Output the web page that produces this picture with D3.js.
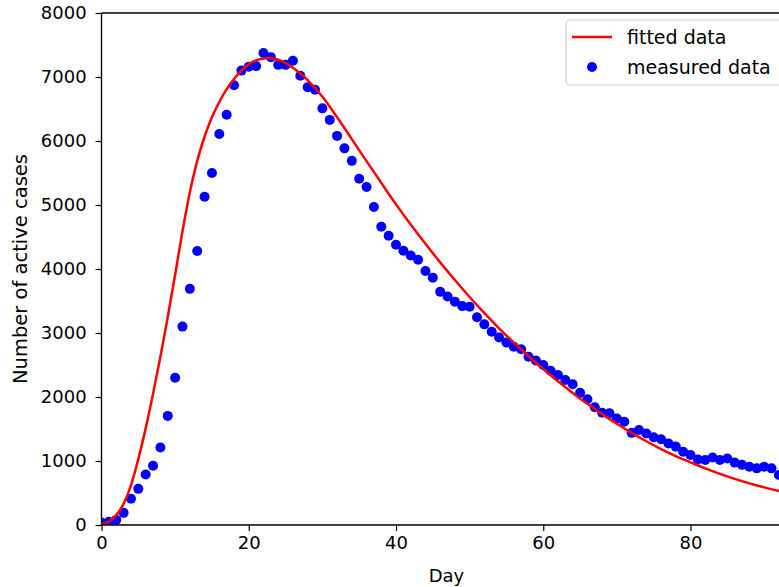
<!DOCTYPE html>
<html>
<head>
<meta charset="utf-8">
<script src="https://cdn.jsdelivr.net/npm/d3@7"></script>
<style>
  html, body { margin: 0; padding: 0; background: #fff; }
  svg { display: block; font-family: "DejaVu Sans", sans-serif; }
</style>
</head>
<body>
<svg id="chart" width="779" height="587"></svg>
<script>
// ---- data ----
const measuredDays = d3.range(0, 93);
const measuredValues = [
  40, 50, 80, 190, 410, 565, 790, 925, 1210, 1705,
  2300, 3100, 3690, 4280, 5130, 5500, 6110, 6410, 6870, 7100,
  7160, 7170, 7375, 7310, 7190, 7190, 7255, 7020, 6840, 6800,
  6510, 6330, 6080, 5885, 5690, 5410, 5280, 4970, 4660, 4520,
  4380, 4285, 4210, 4145, 3970, 3865, 3645, 3570, 3490, 3420,
  3410, 3245, 3135, 3020, 2930, 2850, 2785, 2745, 2630, 2570,
  2500, 2410, 2345, 2265, 2200, 2065, 1965, 1840, 1755, 1745,
  1665, 1615, 1440, 1485, 1430, 1370, 1340, 1275, 1225, 1145,
  1095, 1025, 1015, 1055, 1015, 1040, 975, 940, 910, 885,
  910, 885, 780
];
const fittedDays = [0, 1, 2, 3, 4, 5, 6, 7, 8, 9, 10, 11, 12, 13, 14, 15, 16, 17, 18, 19,
  20, 21, 22, 23, 24, 25, 26, 27, 28, 30, 32, 34, 36, 38, 40, 42, 44, 46, 48, 50,
  52, 54, 56, 58, 60, 62, 64, 66, 68, 70, 72, 74, 76, 78, 80, 82, 84, 86, 88, 90, 92, 94];
const fittedValues = [10, 55, 155, 330, 620, 1030, 1510, 2050, 2630, 3250, 3910, 4590, 5200, 5690, 6070, 6370, 6610, 6810, 6970, 7100,
  7200, 7260, 7290, 7295, 7270, 7220, 7145, 7055, 6950, 6690, 6370, 6030, 5685, 5345, 5010, 4695, 4393, 4104, 3828, 3563,
  3312, 3074, 2849, 2637, 2438, 2245, 2064, 1893, 1732, 1581, 1440, 1309, 1187, 1077, 980, 885, 799, 721, 651, 588, 530, 476];
const xTicks = [0, 20, 40, 60, 80];
const yTicks = [0, 1000, 2000, 3000, 4000, 5000, 6000, 7000, 8000];
const legendLabels = ["fitted data", "measured data"];
const xLabel = "Day";
const yLabel = "Number of active cases";

// ---- layout ----
const svg = d3.select("#chart");
const mLeft = 101.5, mTop = 13, mBottom = 525;
const pxPerDay = 7.3625;
const mRight = mLeft + pxPerDay * 100;   // axes extend past the visible area
const x = d3.scaleLinear().domain([0, 100]).range([mLeft, mRight]);
const y = d3.scaleLinear().domain([0, 8000]).range([mBottom, mTop]);
const fsTick = 18, fsLab = 19.5, fsLeg = 19;

svg.append("defs").append("clipPath").attr("id", "plotclip")
  .append("rect").attr("x", mLeft).attr("y", mTop).attr("width", mRight - mLeft).attr("height", mBottom - mTop);

const plot = svg.append("g").attr("clip-path", "url(#plotclip)");

plot.selectAll("circle.m").data(measuredDays.map((d, i) => [d, measuredValues[i]]))
  .enter().append("circle").attr("class", "m")
  .attr("cx", d => x(d[0])).attr("cy", d => y(d[1])).attr("r", 5)
  .attr("fill", "#0000ff");

const line = d3.line().x(d => x(d[0])).y(d => y(d[1])).curve(d3.curveMonotoneX);
plot.append("path").datum(fittedDays.map((d, i) => [d, fittedValues[i]]))
  .attr("d", line).attr("fill", "none").attr("stroke", "#ff0000").attr("stroke-width", 2.5)
  .attr("stroke-linejoin", "round");

const xAxis = d3.axisBottom(x).tickValues(xTicks).tickSize(5.9).tickPadding(5.5).tickFormat(d3.format("d"));
const yAxis = d3.axisLeft(y).tickValues(yTicks).tickSize(5.9).tickPadding(9).tickFormat(d3.format("d"));
const gx = svg.append("g").attr("transform", `translate(0,${mBottom})`).call(xAxis);
const gy = svg.append("g").attr("transform", `translate(${mLeft},0)`).call(yAxis);
[gx, gy].forEach(g => {
  g.select(".domain").remove();
  g.selectAll(".tick line").attr("stroke", "#000").attr("stroke-width", 1.2);
  g.selectAll(".tick text").attr("fill", "#000").style("font-size", fsTick + "px").style("font-family", "DejaVu Sans");
});

const spine = svg.append("g").attr("stroke", "#000").attr("stroke-width", 1.35).attr("fill", "none");
spine.append("line").attr("x1", mLeft).attr("x2", mRight).attr("y1", mBottom).attr("y2", mBottom);
spine.append("line").attr("x1", mLeft).attr("x2", mRight).attr("y1", mTop).attr("y2", mTop);
spine.append("line").attr("x1", mLeft).attr("x2", mLeft).attr("y1", mTop).attr("y2", mBottom);

svg.append("text").attr("x", 446.5).attr("y", 581.5).attr("text-anchor", "middle")
  .style("font-size", fsTick + "px").attr("fill", "#000").text(xLabel);
svg.append("text").attr("transform", `translate(27,${(mTop + mBottom) / 2}) rotate(-90)`)
  .attr("text-anchor", "middle").style("font-size", fsLab + "px").attr("fill", "#000").text(yLabel);

const lg = svg.append("g");
lg.append("rect").attr("x", 566).attr("y", 20).attr("width", 260).attr("height", 65).attr("rx", 4)
  .attr("fill", "#fff").attr("fill-opacity", 0.8).attr("stroke", "#cccccc").attr("stroke-width", 1.2);
lg.append("line").attr("x1", 572).attr("x2", 612).attr("y1", 37).attr("y2", 37)
  .attr("stroke", "#ff0000").attr("stroke-width", 2.5);
lg.append("circle").attr("cx", 592).attr("cy", 67).attr("r", 5).attr("fill", "#0000ff");
lg.selectAll("text.l").data(legendLabels).enter().append("text").attr("class", "l")
  .attr("x", 627).attr("y", (d, i) => 37 + i * 30).attr("dy", "0.35em")
  .style("font-size", fsLeg + "px").attr("fill", "#000").text(d => d);
</script>
</body>
</html>
